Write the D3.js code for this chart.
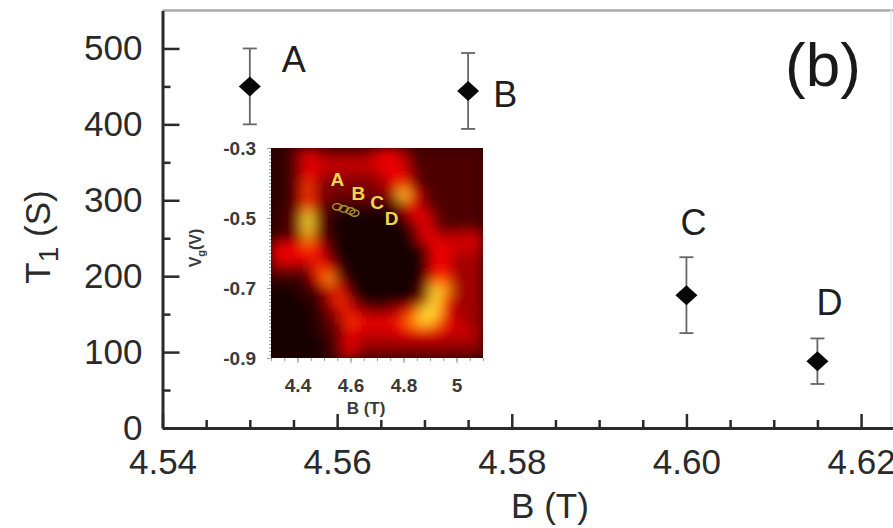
<!DOCTYPE html>
<html><head><meta charset="utf-8">
<script src="https://cdn.jsdelivr.net/npm/d3@7"></script>
<style>
html,body{margin:0;padding:0;background:#fff;}
svg{display:block;font-family:"Liberation Sans",Arial,Helvetica,sans-serif;}
</style></head><body>
<svg id="chart" width="893" height="528"></svg>
<script>
// T1 relaxation time measured at four field points A–D
const pointNames = ["A", "B", "C", "D"];
const fieldB = [4.55, 4.575, 4.60, 4.615];
const t1 = [450, 444, 175, 88];
const t1Err = [50, 50, 50, 30];

const xTicks = [4.54, 4.56, 4.58, 4.60, 4.62];
const xTickLabels = ["4.54", "4.56", "4.58", "4.60", "4.62"];
const xMinorTicks = [4.545, 4.55, 4.555, 4.565, 4.57, 4.575, 4.585, 4.59, 4.595, 4.605, 4.61, 4.615];
const yTicks = [0, 100, 200, 300, 400, 500];
const yMinorTicks = [50, 150, 250, 350, 450];

// Inset: transport map Vg vs B (intensity 0–9 per cell, rows top to bottom)
const heatRows = [
  "11364333346642222222",
  "11365555556652222222",
  "11365444445663222222",
  "11373333334573222222",
  "11374333333496322222",
  "11373211111146322222",
  "12393100000026632222",
  "12393100000002632222",
  "12383100000002664555",
  "66676200000000266555",
  "66666300000000166444",
  "33337610000000166444",
  "11126830000000277444",
  "00112561000000398444",
  "00011474000001497444",
  "00001356433457996444",
  "00001247666678986544",
  "00001236555566665554",
  "00000136444444444444",
  "00000136333333333333"
];
const insetBTicks = [4.4, 4.6, 4.8, 5.0];
const insetBTickLabels = ["4.4", "4.6", "4.8", "5"];
const insetVgTicks = [-0.3, -0.5, -0.7, -0.9];
const insetVgTickLabels = ["-0.3", "-0.5", "-0.7", "-0.9"];
// measurement spots and their letters on the map
const insetSpotVg = [-0.468, -0.474, -0.480, -0.486];
const insetLabelB = [4.55, 4.63, 4.70, 4.755];
const insetLabelVg = [-0.39, -0.43, -0.457, -0.50];

const svg = d3.select("#chart");
const ink = "#2a2a2a";

// ---------- main axes ----------
const x = d3.scaleLinear().domain([4.54, 4.624]).range([162.5, 896]);
const y = d3.scaleLinear().domain([0, 550]).range([428, 10.5]);

// top frame line
svg.append("line").attr("x1", 162.5).attr("x2", 893).attr("y1", 10.5).attr("y2", 10.5)
  .attr("stroke", "#a8a8a8").attr("stroke-width", 2.5);
svg.append("line").attr("x1", 891).attr("x2", 891).attr("y1", 10).attr("y2", 428)
  .attr("stroke", "#ececec").attr("stroke-width", 1.5);

const gx = svg.append("g").attr("transform", "translate(0,428)");
gx.call(d3.axisBottom(x).tickValues(xMinorTicks).tickSize(-8).tickSizeOuter(0).tickFormat(""));
gx.call(g => g.select(".domain").remove());
const gxm = svg.append("g").attr("transform", "translate(0,428)");
gxm.call(d3.axisBottom(x).tickValues(xTicks).tickSize(-14).tickSizeOuter(0).tickPadding(21)
  .tickFormat((d, i) => xTickLabels[i]));

const gy = svg.append("g").attr("transform", "translate(162.5,0)");
gy.call(d3.axisLeft(y).tickValues(yMinorTicks).tickSize(-8).tickSizeOuter(0).tickFormat(""));
gy.call(g => g.select(".domain").remove());
const gym = svg.append("g").attr("transform", "translate(162.5,0)");
gym.call(d3.axisLeft(y).tickValues(yTicks).tickSize(-17).tickSizeOuter(0).tickPadding(20)
  .tickFormat(d => String(d)));

svg.selectAll(".tick line").attr("stroke", ink).attr("stroke-width", 2.5);
svg.selectAll(".domain").attr("stroke", ink).attr("stroke-width", 3);
svg.selectAll(".tick text").attr("fill", ink).style("font-size", "35px")
  .style("font-family", "'Liberation Sans', Arial, sans-serif");

// axis titles
svg.append("text").attr("x", 550).attr("y", 518).attr("text-anchor", "middle")
  .attr("fill", ink).style("font-size", "35px").text("B (T)");
const yt = svg.append("text").attr("transform", "translate(50,237) rotate(-90)")
  .attr("text-anchor", "middle").attr("fill", ink).style("font-size", "35px");
yt.append("tspan").text("T");
yt.append("tspan").attr("dy", 8).style("font-size", "28px").text("1");
yt.append("tspan").attr("dy", -8).text(" (S)");

// panel tag
svg.append("text").attr("x", 823).attr("y", 86).attr("text-anchor", "middle")
  .attr("fill", "#1a1a1a").style("font-size", "62px").text("(b)");

// ---------- data: error bars, diamonds, labels ----------
const pts = pointNames.map((n, i) => ({ n, b: fieldB[i], v: t1[i], e: t1Err[i] }));
const labelLayout = [
  { dx: 44, dy: -14, anchor: "middle" },
  { dx: 25, dy: 16, anchor: "start" },
  { dx: 7, dy: -60, anchor: "middle" },
  { dx: 12, dy: -46, anchor: "middle" }
];
const gp = svg.append("g");
const err = gp.selectAll("g.err").data(pts).join("g").attr("class", "err")
  .attr("stroke", "#666").attr("stroke-width", 1.8);
err.append("line").attr("x1", d => x(d.b)).attr("x2", d => x(d.b))
  .attr("y1", d => y(d.v - d.e)).attr("y2", d => y(d.v + d.e));
err.append("line").attr("x1", d => x(d.b) - 7).attr("x2", d => x(d.b) + 7)
  .attr("y1", d => y(d.v - d.e)).attr("y2", d => y(d.v - d.e));
err.append("line").attr("x1", d => x(d.b) - 7).attr("x2", d => x(d.b) + 7)
  .attr("y1", d => y(d.v + d.e)).attr("y2", d => y(d.v + d.e));
gp.selectAll("path.dia").data(pts).join("path").attr("class", "dia")
  .attr("d", "M0,-10L11,0L0,10L-11,0Z").attr("fill", "#080808")
  .attr("transform", d => `translate(${x(d.b)},${y(d.v)})`);
gp.selectAll("text.lab").data(pts).join("text").attr("class", "lab")
  .attr("x", (d, i) => x(d.b) + labelLayout[i].dx)
  .attr("y", (d, i) => y(d.v) + labelLayout[i].dy)
  .attr("text-anchor", (d, i) => labelLayout[i].anchor)
  .attr("fill", "#1e1e1e").style("font-size", "36px").text(d => d.n);

// ---------- inset map ----------
const xi = d3.scaleLinear().domain([4.3, 5.1]).range([271, 483]);
const yi = d3.scaleLinear().domain([-0.3, -0.9]).range([148, 358]);
const nCols = heatRows[0].length, nRows = heatRows.length;
const cb = d3.scaleBand().domain(d3.range(nCols)).range(xi.range());
const rb = d3.scaleBand().domain(d3.range(nRows)).range(yi.range());
const hot = d3.scaleLinear()
  .domain([0, 0.25, 0.55, 0.67, 0.78, 0.89, 1])
  .range(["#120000", "#560000", "#cc0000", "#f00000", "#ff3a00", "#ff9a10", "#ffdc30"]);

const defs = svg.append("defs");
defs.append("clipPath").attr("id", "insetClip").append("rect")
  .attr("x", 271).attr("y", 148).attr("width", 212).attr("height", 210);
const f = defs.append("filter").attr("id", "soft").attr("filterUnits", "userSpaceOnUse")
  .attr("x", 271).attr("y", 148).attr("width", 212).attr("height", 210);
f.append("feGaussianBlur").attr("stdDeviation", 6.5).attr("edgeMode", "duplicate");

const cells = [];
heatRows.forEach((row, r) => row.split("").forEach((ch, c) => cells.push({ r, c, v: +ch / 9 })));
const gi = svg.append("g").attr("clip-path", "url(#insetClip)");
gi.append("rect").attr("x", 271).attr("y", 148).attr("width", 212).attr("height", 210).attr("fill", "#2a0000");
gi.append("g").attr("filter", "url(#soft)").selectAll("rect").data(cells).join("rect")
  .attr("x", d => cb(d.c)).attr("y", d => rb(d.r))
  .attr("width", cb.bandwidth() + 0.6).attr("height", rb.bandwidth() + 0.6)
  .attr("fill", d => hot(d.v));

// spots and letters
gi.selectAll("ellipse").data(fieldB).join("ellipse")
  .attr("cx", d => xi(d)).attr("cy", (d, i) => yi(insetSpotVg[i]))
  .attr("rx", 4.5).attr("ry", 3.2).attr("fill", "none")
  .attr("stroke", "#a89a2a").attr("stroke-width", 1.4);
gi.selectAll("text").data(pointNames).join("text")
  .attr("x", (d, i) => xi(insetLabelB[i])).attr("y", (d, i) => yi(insetLabelVg[i]))
  .attr("text-anchor", "middle").attr("dominant-baseline", "central")
  .attr("fill", "#ecd84a").style("font-size", "19px").style("font-weight", "bold").text(d => d);

// inset axes
const insetInk = "#3a3a3a";
const gib = svg.append("g").attr("transform", "translate(0,358)");
gib.call(d3.axisBottom(xi).tickValues(d3.range(4.3, 5.101, 0.05)).tickSize(3).tickFormat(""));
const gibm = svg.append("g").attr("transform", "translate(0,358)");
gibm.call(d3.axisBottom(xi).tickValues(insetBTicks).tickSize(5).tickPadding(16)
  .tickFormat((d, i) => insetBTickLabels[i]));
const gil = svg.append("g").attr("transform", "translate(271,0)");
gil.call(d3.axisLeft(yi).tickValues(d3.range(-0.3, -0.9001, -0.01)).tickSize(2).tickFormat(""));
const gilm = svg.append("g").attr("transform", "translate(271,0)");
gilm.call(d3.axisLeft(yi).tickValues(insetVgTicks).tickSize(4).tickPadding(11)
  .tickFormat((d, i) => insetVgTickLabels[i]));
[gib, gibm, gil, gilm].forEach(g => {
  g.select(".domain").remove();
  g.selectAll(".tick line").attr("stroke", "#9a9a9a").attr("stroke-width", 1);
  g.selectAll(".tick text").attr("fill", insetInk).style("font-size", "19px")
    .style("font-weight", "bold").style("font-family", "'Liberation Sans', Arial, sans-serif");
});
svg.append("text").attr("x", 366).attr("y", 414).attr("text-anchor", "middle")
  .attr("fill", insetInk).style("font-size", "17px").style("font-weight", "bold").text("B (T)");
const vl = svg.append("text").attr("transform", "translate(201,248) rotate(-90)")
  .attr("text-anchor", "middle").attr("fill", insetInk)
  .style("font-size", "16px").style("font-weight", "bold");
vl.append("tspan").text("V");
vl.append("tspan").attr("dy", 4).style("font-size", "11px").text("g");
vl.append("tspan").attr("dy", -4).text("(V)");
</script>
</body></html>
